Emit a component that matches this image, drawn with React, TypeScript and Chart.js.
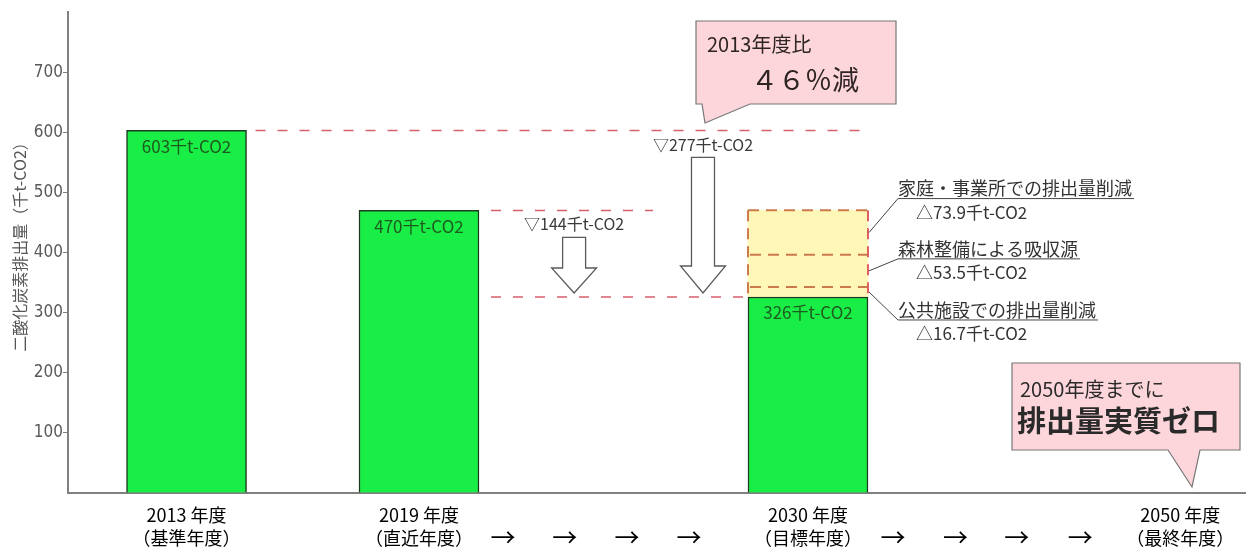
import React, { useEffect, useRef } from 'react';
import { Chart, registerables } from 'chart.js';

Chart.register(...registerables);

// ---------------- data ----------------
const CATEGORIES = ['2013 年度', '2019 年度', '2030 年度', '2050 年度'];
const CATEGORY_NOTES = ['（基準年度）', '（直近年度）', '（目標年度）', '（最終年度）'];
const EMISSIONS: (number | null)[] = [603, 470, 326, null];
const REDUCTION_NAMES = ['公共施設での排出量削減', '森林整備による吸収源', '家庭・事業所での排出量削減'];
const REDUCTION_VALUES = [16.7, 53.5, 73.9];
const UNIT = '千t-CO2';
const Y_TITLE = '二酸化炭素排出量（千t-CO2）';
const CALLOUT_TOP = ['2013年度比', '４６％減'];
const CALLOUT_GOAL = ['2050年度までに', '排出量実質ゼロ'];
const Y_MIN = 0;
const Y_MAX = 800;
const Y_STEP = 100;

// ---------------- layout (timeline units 0..100) ----------------
const X_POS = [10.07, 29.82, 62.87, 94.5];
const ARROW_POS = [36.96, 42.2, 47.5, 52.76, 70.1, 75.4, 80.6, 86.0];
const ARROW_144_X = 43.0;
const ARROW_277_X = 53.95;
const LINE_470_END = 49.7;

const FONT_JP = "'Noto Sans CJK JP', 'Noto Sans', sans-serif";
const FONT_NARROW = "'Liberation Sans Narrow', 'DejaVu Sans Condensed', 'Liberation Sans', sans-serif";

function downArrow(ctx: CanvasRenderingContext2D, cx: number, top: number, tip: number, shaftHalf: number, headHalf: number, headLen: number) {
  const hy = tip - headLen;
  ctx.save();
  ctx.setLineDash([]);
  ctx.beginPath();
  ctx.moveTo(cx - shaftHalf, top);
  ctx.lineTo(cx + shaftHalf, top);
  ctx.lineTo(cx + shaftHalf, hy);
  ctx.lineTo(cx + headHalf, hy);
  ctx.lineTo(cx, tip);
  ctx.lineTo(cx - headHalf, hy);
  ctx.lineTo(cx - shaftHalf, hy);
  ctx.closePath();
  ctx.fillStyle = '#ffffff';
  ctx.fill();
  ctx.strokeStyle = '#5a5a5a';
  ctx.lineWidth = 1.3;
  ctx.stroke();
  ctx.restore();
}

function line(ctx: CanvasRenderingContext2D, x1: number, y1: number, x2: number, y2: number) {
  ctx.beginPath();
  ctx.moveTo(x1, y1);
  ctx.lineTo(x2, y2);
  ctx.stroke();
}

function callout(ctx: CanvasRenderingContext2D, pts: [number, number][]) {
  ctx.save();
  ctx.setLineDash([]);
  ctx.beginPath();
  pts.forEach(([px, py], i) => (i === 0 ? ctx.moveTo(px, py) : ctx.lineTo(px, py)));
  ctx.closePath();
  ctx.fillStyle = '#fcd6db';
  ctx.fill();
  ctx.strokeStyle = '#777777';
  ctx.lineWidth = 1.2;
  ctx.stroke();
  ctx.restore();
}

const overlayPlugin = {
  id: 'overlay',
  afterDatasetsDraw(chart: any) {
    const { ctx, scales } = chart;
    const x = scales.x;
    const y = scales.y;
    const bars = chart.getDatasetMeta(0).data;
    const segs = [1, 2, 3].map((i) => chart.getDatasetMeta(i).data[0]);
    const left = (el: any) => el.x - el.width / 2;
    const right = (el: any) => el.x + el.width / 2;
    const yp = (v: number) => y.getPixelForValue(v);

    ctx.save();

    // y-axis title
    ctx.save();
    ctx.translate(20, 243);
    ctx.rotate(-Math.PI / 2);
    ctx.fillStyle = '#555555';
    ctx.font = `16px ${FONT_JP}`;
    ctx.textAlign = 'center';
    ctx.textBaseline = 'middle';
    ctx.fillText(Y_TITLE, 0, 0);
    ctx.restore();

    // yellow reduction block outlines (outer box + internal dividers)
    const top = segs[segs.length - 1];
    const bx1 = left(top);
    const bx2 = right(top);
    const by1 = top.y;
    const by2 = segs[0].base;
    ctx.lineWidth = 2;
    ctx.setLineDash([11, 7]);
    ctx.strokeStyle = '#cc7a4c';
    line(ctx, bx1, by1, bx2, by1);
    for (let i = 0; i < segs.length - 1; i++) {
      line(ctx, bx1 + 2, segs[i].y, bx2, segs[i].y);
    }
    line(ctx, bx1, by1, bx1, by2);
    ctx.strokeStyle = '#e0605e';
    line(ctx, bx2, by1, bx2, by2);

    // reference dashed lines
    ctx.setLineDash([10, 12]);
    ctx.strokeStyle = '#d85f6e';
    ctx.lineWidth = 1.5;
    const e0 = EMISSIONS[0] as number;
    const e1 = EMISSIONS[1] as number;
    const e2 = EMISSIONS[2] as number;
    line(ctx, right(bars[0]) + 9, yp(e0), right(bars[2]) + 2, yp(e0));
    line(ctx, right(bars[1]) + 12, yp(e1), x.getPixelForValue(LINE_470_END), yp(e1));
    line(ctx, right(bars[1]) + 12, yp(e2), left(bars[2]) - 3, yp(e2));
    ctx.setLineDash([]);

    // bar value labels
    ctx.fillStyle = '#1f5a1f';
    ctx.font = `17px ${FONT_JP}`;
    ctx.textAlign = 'center';
    ctx.textBaseline = 'middle';
    bars.forEach((el: any, i: number) => {
      const v = EMISSIONS[i];
      if (v == null) return;
      ctx.fillText(`${v}${UNIT}`, el.x, el.y + 16);
    });

    // reduction arrows
    const a144x = x.getPixelForValue(ARROW_144_X);
    const a277x = x.getPixelForValue(ARROW_277_X);
    downArrow(ctx, a144x, yp(e1) + 27, yp(e2) - 4, 11.5, 22.5, 25);
    downArrow(ctx, a277x, yp(e0) + 27, yp(e2) - 4, 11.5, 22.5, 27);
    ctx.fillStyle = '#3a3a3a';
    ctx.font = `16px ${FONT_JP}`;
    ctx.fillText(`▽${e1 - e2}${UNIT}`, a144x, yp(e1) + 14);
    ctx.fillText(`▽${e0 - e2}${UNIT}`, a277x, yp(e0) + 14);

    // leader lines + labels for reductions
    const underlineOffsets = [28, -12, -34];
    segs.forEach((el: any, i: number) => {
      const mid = (el.y + el.base) / 2;
      const sx = right(el) + 1;
      const ex = right(el) + 30;
      const uy = mid + underlineOffsets[i];
      ctx.font = `18px ${FONT_JP}`;
      const w = ctx.measureText(REDUCTION_NAMES[i]).width;
      ctx.strokeStyle = '#444444';
      ctx.lineWidth = 1;
      ctx.beginPath();
      ctx.moveTo(sx, mid);
      ctx.lineTo(ex, uy);
      ctx.lineTo(ex + w + 2, uy);
      ctx.stroke();
      ctx.fillStyle = '#333333';
      ctx.textAlign = 'left';
      ctx.textBaseline = 'middle';
      ctx.fillText(REDUCTION_NAMES[i], ex, uy - 10);
      ctx.font = `17px ${FONT_JP}`;
      ctx.fillText(`△${REDUCTION_VALUES[i]}${UNIT}`, ex + 18, uy + 14);
    });

    // top callout
    callout(ctx, [
      [696, 21], [896, 21], [896, 104], [750, 104], [705, 123], [702, 104], [696, 104],
    ]);
    ctx.fillStyle = '#2e2424';
    ctx.textAlign = 'left';
    ctx.font = `20px ${FONT_JP}`;
    ctx.fillText(CALLOUT_TOP[0], 707, 44);
    ctx.textAlign = 'center';
    ctx.font = `27px ${FONT_JP}`;
    ctx.fillText(CALLOUT_TOP[1], 805, 80);

    // goal callout
    callout(ctx, [
      [1012, 363], [1240, 363], [1240, 450], [1200, 450], [1192, 487], [1168, 450], [1012, 450],
    ]);
    ctx.fillStyle = '#2a2a2a';
    ctx.textAlign = 'left';
    ctx.font = `20px ${FONT_JP}`;
    ctx.fillText(CALLOUT_GOAL[0], 1020, 389);
    ctx.font = `bold 29px ${FONT_JP}`;
    ctx.fillText(CALLOUT_GOAL[1], 1017, 421);

    // timeline arrows
    ctx.fillStyle = '#000000';
    ctx.textAlign = 'center';
    ctx.font = `25px ${FONT_JP}`;
    ARROW_POS.forEach((p) => ctx.fillText('→', x.getPixelForValue(p), 537));

    ctx.restore();
  },
};

export default function App() {
  const ref = useRef<HTMLCanvasElement>(null);
  useEffect(() => {
    document.body.style.margin = '0';
    const canvas = ref.current!;
    const emissionData = EMISSIONS.map((v, i) => ({ x: X_POS[i], y: v }));
    const reductionSets = REDUCTION_VALUES.map((v, i) => ({
      label: REDUCTION_NAMES[i],
      data: [{ x: X_POS[2], y: v }],
      backgroundColor: '#fff7b8',
      borderWidth: 0,
      stack: 'a',
    }));
    const chart = new Chart(canvas, {
      type: 'bar',
      data: {
        datasets: [
          {
            label: 'CO2',
            data: emissionData as any,
            backgroundColor: '#18ee46',
            borderColor: '#1e3a1e',
            borderWidth: 1.5,
            stack: 'a',
          },
          ...(reductionSets as any),
        ],
      },
      options: {
        responsive: false,
        animation: false,
        devicePixelRatio: 1,
        layout: { padding: { left: 0, right: 4, top: 12, bottom: 0 } },
        datasets: { bar: { barThickness: 120 } } as any,
        plugins: { legend: { display: false }, tooltip: { enabled: false } },
        scales: {
          x: {
            type: 'linear',
            min: 0,
            max: 100,
            offset: false,
            stacked: true,
            grid: { display: false, drawTicks: false, offset: false },
            border: { color: '#808080', width: 2 },
            afterBuildTicks: (s: any) => {
              s.ticks = X_POS.map((v) => ({ value: v }));
            },
            afterFit: (s: any) => {
              s.height = 61;
            },
            ticks: {
              autoSkip: false,
              maxRotation: 0,
              padding: 11,
              color: '#000000',
              font: { family: FONT_JP, size: 18, lineHeight: 1.25 },
              callback: (_v: any, i: number) => [CATEGORIES[i], CATEGORY_NOTES[i]],
            },
          },
          y: {
            stacked: true,
            min: Y_MIN,
            max: Y_MAX,
            border: { color: '#808080', width: 2 },
            grid: {
              drawOnChartArea: false,
              drawTicks: true,
              tickLength: 5,
              color: (c: any) => (c.tick && (c.tick.value === Y_MIN || c.tick.value === Y_MAX) ? 'rgba(0,0,0,0)' : '#808080'),
            },
            afterFit: (s: any) => {
              s.width = 68;
            },
            ticks: {
              stepSize: Y_STEP,
              padding: 0,
              color: '#5a5a5a',
              font: { family: FONT_NARROW, size: 17 },
              callback: (v: any) => (v === Y_MIN || v === Y_MAX ? '' : String(v)),
            },
          },
        },
      },
      plugins: [overlayPlugin],
    });
    return () => chart.destroy();
  }, []);
  return (
    <div style={{ width: 1249, height: 554 }}>
      <canvas ref={ref} width={1249} height={554} style={{ display: 'block', width: 1249, height: 554 }} />
    </div>
  );
}
